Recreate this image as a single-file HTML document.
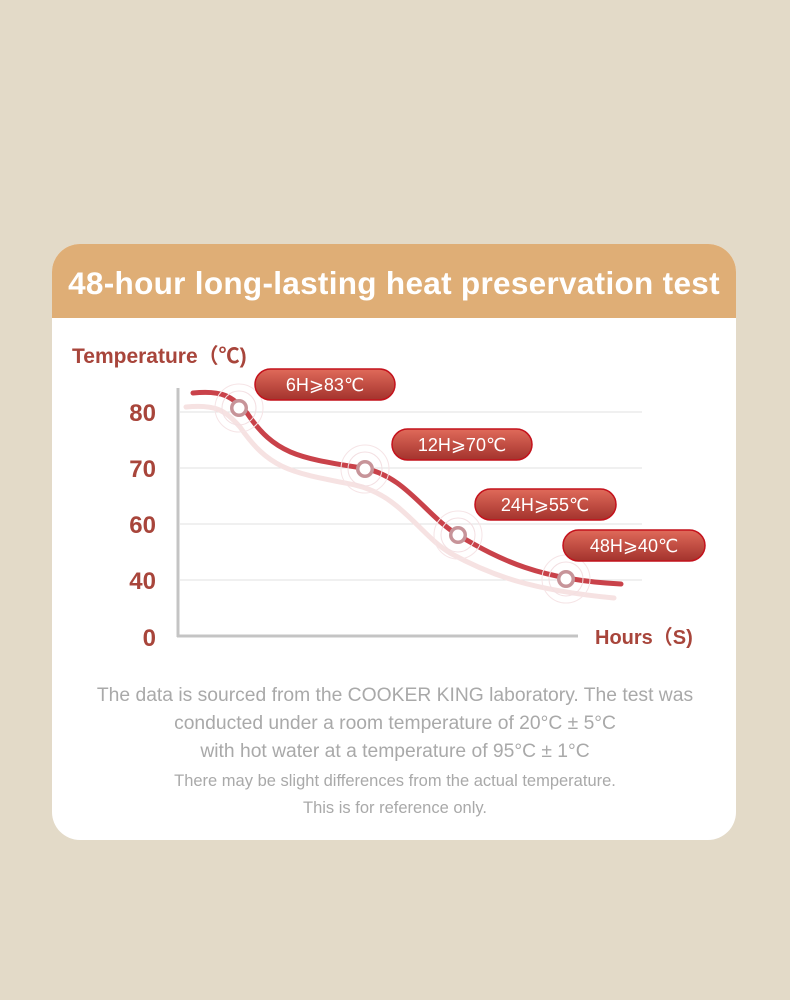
<!DOCTYPE html>
<html><head><meta charset="utf-8"><style>
body{margin:0;width:790px;height:1000px;background:#e3dac8;font-family:"Liberation Sans","Noto Sans CJK SC",sans-serif;position:relative;overflow:hidden}
.card{position:absolute;left:52px;top:244px;width:684px;height:596px;background:#fff;border-radius:28px;overflow:hidden}
.hd{height:74px;background:#dfae76;color:#fff;font-size:31.5px;font-weight:bold;line-height:78px;text-align:center;letter-spacing:0.3px}
.t{position:absolute;left:0;width:790px;text-align:center;color:#a9a9a9}
</style></head><body>
<div class="card"><div class="hd">48-hour long-lasting heat preservation test</div></div>
<svg width="790" height="1000" style="position:absolute;left:0;top:0">
<defs>
<linearGradient id="pg" x1="0" y1="0" x2="0" y2="1"><stop offset="0" stop-color="#e06a5a"/><stop offset="1" stop-color="#a3332d"/></linearGradient>
</defs>
<text x="72" y="363" font-size="21" font-weight="bold" fill="#a8453b" font-family="Liberation Sans,Noto Sans CJK SC,sans-serif">Temperature（℃)</text>
<g font-size="24" font-weight="bold" fill="#a8453b" text-anchor="end" font-family="Liberation Sans,sans-serif">
<text x="156" y="421">80</text><text x="156" y="477">70</text><text x="156" y="533">60</text><text x="156" y="589">40</text><text x="156" y="646">0</text></g>
<text x="595" y="644" font-size="20" font-weight="bold" fill="#a8453b" font-family="Liberation Sans,Noto Sans CJK SC,sans-serif">Hours（S)</text>
<g stroke="#e2e2e2" stroke-width="1"><line x1="180" y1="412" x2="642" y2="412"/><line x1="180" y1="468" x2="642" y2="468"/><line x1="180" y1="524" x2="642" y2="524"/><line x1="180" y1="580" x2="642" y2="580"/></g>
<line x1="178" y1="388" x2="178" y2="637" stroke="#c4c4c4" stroke-width="3"/>
<line x1="177" y1="636" x2="578" y2="636" stroke="#c4c4c4" stroke-width="3"/>
<path d="M186,407 C215,404 225,410 240,427 C270,470 290,472 355,485 C400,495 420,535 450,553 C490,575 530,590 614,598" fill="none" stroke="#f6e2e2" stroke-width="5" stroke-linecap="round"/>
<path d="M193,393 C222,390 232,396 247,413 C275,455 300,458 362,468 C405,475 425,515 458,535 C500,560 540,580 621,584" fill="none" stroke="#c9424a" stroke-width="5" stroke-linecap="round"/>
<g>
<circle cx="239" cy="408" r="24" fill="none" stroke="#f6e4e6"/><circle cx="239" cy="408" r="17" fill="none" stroke="#f3dfe2"/><circle cx="239" cy="408" r="9" fill="#c79499"/><circle cx="239" cy="408" r="5.5" fill="#fff"/>
<circle cx="365" cy="469" r="24" fill="none" stroke="#f6e4e6"/><circle cx="365" cy="469" r="17" fill="none" stroke="#f3dfe2"/><circle cx="365" cy="469" r="9" fill="#c79499"/><circle cx="365" cy="469" r="5.5" fill="#fff"/>
<circle cx="458" cy="535" r="24" fill="none" stroke="#f6e4e6"/><circle cx="458" cy="535" r="17" fill="none" stroke="#f3dfe2"/><circle cx="458" cy="535" r="9" fill="#c79499"/><circle cx="458" cy="535" r="5.5" fill="#fff"/>
<circle cx="566" cy="579" r="24" fill="none" stroke="#f6e4e6"/><circle cx="566" cy="579" r="17" fill="none" stroke="#f3dfe2"/><circle cx="566" cy="579" r="9" fill="#c79499"/><circle cx="566" cy="579" r="5.5" fill="#fff"/>
</g>
<g stroke="#c4121c" stroke-width="1.5" fill="url(#pg)">
<rect x="255" y="369" width="140" height="31" rx="15.5"/><rect x="392" y="429" width="140" height="31" rx="15.5"/><rect x="475" y="489" width="141" height="31" rx="15.5"/><rect x="563" y="530" width="142" height="31" rx="15.5"/></g>
<g fill="#fff" font-size="18" text-anchor="middle" font-family="Liberation Sans,DejaVu Sans,sans-serif">
<text x="325" y="391">6H⩾83℃</text><text x="462" y="451">12H⩾70℃</text><text x="545" y="511">24H⩾55℃</text><text x="634" y="552">48H⩾40℃</text></g>
</svg>
<div class="t" style="top:682px;font-size:19.3px;line-height:28px">The data is sourced from the COOKER KING laboratory. The test was<br>conducted under a room temperature of 20°C ± 5°C<br>with hot water at a temperature of 95°C ± 1°C</div>
<div class="t" style="top:768px;font-size:16.5px;line-height:27px">There may be slight differences from the actual temperature.<br>This is for reference only.</div>
</body></html>
